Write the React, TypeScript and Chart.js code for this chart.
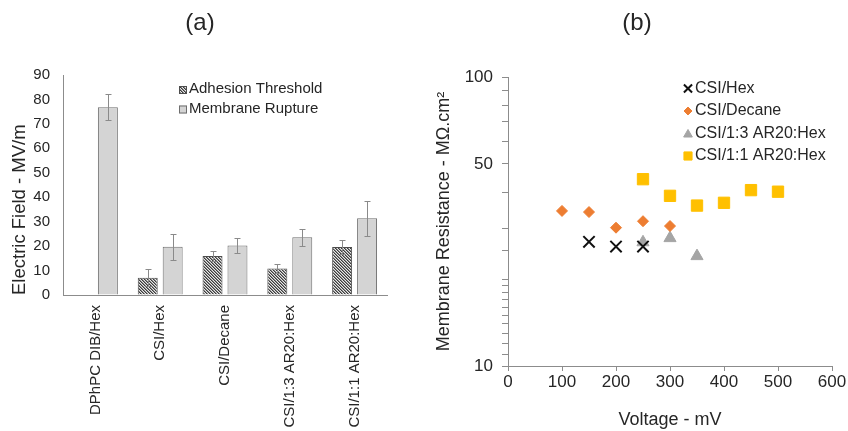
import React, { useEffect, useRef } from 'react';
import { Chart, registerables } from 'chart.js';
import { drawPoint } from 'chart.js/helpers';

Chart.register(...registerables);

const FONT = '"Liberation Sans", Arial, Helvetica, sans-serif';
const TEXT = '#262626';
const AXIS = '#8c8c8c';

// ---------- Panel (a): electric field bars ----------
const systems = ['DPhPC DIB/Hex', 'CSI/Hex', 'CSI/Decane', 'CSI/1:3 AR20:Hex', 'CSI/1:1 AR20:Hex'];
const adhesion = [null, 7.1, 16.0, 10.8, 19.6];
const adhesionErr = [null, 3.5, 2.1, 2.0, 3.0];
const rupture = [76.8, 19.7, 20.3, 23.6, 31.4];
const ruptureErr = [5.4, 5.3, 3.2, 3.5, 7.2];
const fieldSeries = ['Adhesion Threshold', 'Membrane Rupture'];

// ---------- Panel (b): membrane resistance scatter ----------
const hexVoltage = [150, 200, 250];
const hexResistance = [26.9, 25.9, 25.9];
const decaneVoltage = [100, 150, 200, 250, 300];
const decaneResistance = [34.4, 34.1, 30.1, 31.7, 30.5];
const ar13Voltage = [250, 300, 350];
const ar13Resistance = [26.8, 27.7, 24.0];
const ar11Voltage = [250, 300, 350, 400, 450, 500];
const ar11Resistance = [44.3, 38.8, 35.9, 36.7, 40.6, 40.1];
const resistanceSeries = ['CSI/Hex', 'CSI/Decane', 'CSI/1:3 AR20:Hex', 'CSI/1:1 AR20:Hex'];
const resistanceTickLabels = [10, 50, 100];

const zip = (xs: number[], ys: number[]) => xs.map((x, i) => ({ x, y: ys[i] }));

function makeHatch(): CanvasPattern | string {
  const n = 3;
  const shades = [60, 140, 232];
  const c = document.createElement('canvas');
  c.width = n;
  c.height = n;
  const ctx = c.getContext('2d');
  if (!ctx) return '#777';
  const img = ctx.createImageData(n, n);
  for (let y = 0; y < n; y++) {
    for (let x = 0; x < n; x++) {
      const d = (x - y + 2 * n) % n;
      const v = shades[d];
      const k = (y * n + x) * 4;
      img.data[k] = v;
      img.data[k + 1] = v;
      img.data[k + 2] = v;
      img.data[k + 3] = 255;
    }
  }
  ctx.putImageData(img, 0, 0);
  const mainCtx = document.createElement('canvas').getContext('2d');
  return (mainCtx && mainCtx.createPattern(c, 'repeat')) || '#777';
}

const errorBars = {
  id: 'errorBars',
  afterDatasetsDraw(chart: any, _args: any, opts: any) {
    const { ctx } = chart;
    const yScale = chart.scales.y;
    chart.data.datasets.forEach((ds: any, i: number) => {
      const errs = ds.errors;
      if (!errs) return;
      const meta = chart.getDatasetMeta(i);
      meta.data.forEach((el: any, j: number) => {
        const v = ds.data[j];
        const e = errs[j];
        if (v == null || e == null) return;
        const x = Math.round(el.x) + 0.5;
        const top = Math.round(yScale.getPixelForValue(v + e)) + 0.5;
        const bot = Math.round(yScale.getPixelForValue(v - e)) + 0.5;
        ctx.save();
        ctx.strokeStyle = opts.color;
        ctx.lineWidth = 1;
        ctx.beginPath();
        ctx.moveTo(x, top);
        ctx.lineTo(x, bot);
        ctx.moveTo(x - opts.cap, top);
        ctx.lineTo(x + opts.cap, top);
        ctx.moveTo(x - opts.cap, bot);
        ctx.lineTo(x + opts.cap, bot);
        ctx.stroke();
        ctx.restore();
      });
    });
  },
};

const boxLegend = {
  id: 'boxLegend',
  afterDraw(chart: any, _args: any, o: any) {
    const { ctx } = chart;
    chart.data.datasets.forEach((ds: any, i: number) => {
      const y = o.y + i * o.rowHeight;
      ctx.save();
      ctx.fillStyle = ds.backgroundColor;
      ctx.fillRect(o.x, y + o.boxDy, o.box, o.box);
      ctx.strokeStyle = ds.borderColor;
      ctx.lineWidth = 1;
      ctx.strokeRect(o.x + 0.5, y + o.boxDy + 0.5, o.box - 1, o.box - 1);
      ctx.fillStyle = o.color;
      ctx.font = `${o.size}px ${FONT}`;
      ctx.textBaseline = 'middle';
      ctx.textAlign = 'left';
      ctx.fillText(ds.label, o.textX, y);
      ctx.restore();
    });
  },
};

const pointLegend = {
  id: 'pointLegend',
  afterDraw(chart: any, _args: any, o: any) {
    const { ctx } = chart;
    chart.data.datasets.forEach((ds: any, i: number) => {
      const y = o.y + i * o.rowHeight;
      ctx.save();
      ctx.fillStyle = ds.backgroundColor;
      ctx.strokeStyle = ds.borderColor;
      ctx.lineWidth = ds.borderWidth;
      drawPoint(
        ctx,
        { pointStyle: ds.pointStyle, rotation: 0, radius: ds.pointRadius * 0.72, borderWidth: ds.borderWidth } as any,
        o.x,
        y + (ds.legendDy || 0)
      );
      ctx.fillStyle = o.color;
      ctx.font = `${o.size}px ${FONT}`;
      ctx.textBaseline = 'middle';
      ctx.textAlign = 'left';
      ctx.fillText(ds.label, o.textX, y);
      ctx.restore();
    });
  },
};

function PanelA() {
  const ref = useRef<HTMLCanvasElement | null>(null);
  useEffect(() => {
    if (!ref.current) return;
    const hatch = makeHatch();
    const chart = new Chart(ref.current, {
      type: 'bar',
      data: {
        labels: systems,
        datasets: [
          {
            label: fieldSeries[0],
            data: adhesion as any,
            errors: adhesionErr,
            backgroundColor: hatch as any,
            borderColor: '#4d4d4d',
            borderWidth: 1,
            categoryPercentage: 0.77,
            barPercentage: 0.8,
          } as any,
          {
            label: fieldSeries[1],
            data: rupture,
            errors: ruptureErr,
            backgroundColor: '#d4d4d4',
            borderColor: '#6e6e6e',
            borderWidth: 1,
            categoryPercentage: 0.77,
            barPercentage: 0.8,
          } as any,
        ],
      },
      plugins: [errorBars, boxLegend],
      options: {
        animation: false,
        responsive: true,
        maintainAspectRatio: false,
        devicePixelRatio: 1,
        layout: { padding: { left: 0, top: 75, right: 37, bottom: 0 } },
        plugins: {
          legend: { display: false },
          tooltip: { enabled: false },
          title: { display: false },
          errorBars: { color: '#8a8a8a', cap: 3 },
          boxLegend: { x: 179, y: 89, rowHeight: 19.5, box: 8, boxDy: -3, textX: 189, size: 15, color: TEXT },
        } as any,
        scales: {
          x: {
            type: 'category',
            offset: true,
            afterFit: (s: any) => { s.height = 136; },
            grid: { display: true, drawOnChartArea: false, drawTicks: false },
            border: { display: true, color: AXIS, width: 1 },
            ticks: {
              autoSkip: false,
              maxRotation: 90,
              minRotation: 90,
              padding: 10,
              color: TEXT,
              font: { family: FONT, size: 15 },
            },
          },
          y: {
            min: 0,
            max: 90,
            afterFit: (s: any) => { s.width = 63; },
            grid: { display: true, drawOnChartArea: false, drawTicks: false },
            border: { display: true, color: AXIS, width: 1 },
            ticks: { stepSize: 10, padding: 13, color: TEXT, font: { family: FONT, size: 15 } },
            title: {
              display: true,
              text: 'Electric Field - MV/m',
              align: 'start',
              color: TEXT,
              font: { family: FONT, size: 18.5 },
              padding: { top: 9, bottom: 0 },
            },
          },
        },
      } as any,
    });
    return () => chart.destroy();
  }, []);
  return <canvas ref={ref} />;
}

function PanelB() {
  const ref = useRef<HTMLCanvasElement | null>(null);
  useEffect(() => {
    if (!ref.current) return;
    const chart = new Chart(ref.current, {
      type: 'scatter',
      data: {
        datasets: [
          {
            label: resistanceSeries[0],
            data: zip(hexVoltage, hexResistance),
            pointStyle: 'crossRot',
            pointRadius: 8,
            backgroundColor: '#111111',
            borderColor: '#111111',
            borderWidth: 2,
            legendDy: 0,
          } as any,
          {
            label: resistanceSeries[1],
            data: zip(decaneVoltage, decaneResistance),
            pointStyle: 'rectRot',
            pointRadius: 5.5,
            backgroundColor: '#ED7D31',
            borderColor: '#ED7D31',
            borderWidth: 1,
          } as any,
          {
            label: resistanceSeries[2],
            data: zip(ar13Voltage, ar13Resistance),
            pointStyle: 'triangle',
            pointRadius: 7,
            backgroundColor: '#A5A5A5',
            borderColor: '#A5A5A5',
            borderWidth: 1,
            legendDy: 1,
          } as any,
          {
            label: resistanceSeries[3],
            data: zip(ar11Voltage, ar11Resistance),
            pointStyle: 'rect',
            pointRadius: 8,
            backgroundColor: '#FFC000',
            borderColor: '#FFC000',
            borderWidth: 1,
          } as any,
        ],
      },
      plugins: [pointLegend],
      options: {
        animation: false,
        responsive: true,
        maintainAspectRatio: false,
        devicePixelRatio: 1,
        layout: { padding: { left: 0, top: 77, right: 16, bottom: 0 } },
        plugins: {
          legend: { display: false },
          tooltip: { enabled: false },
          title: { display: false },
          pointLegend: { x: 264, y: 88.5, rowHeight: 22.5, textX: 271, size: 16, color: TEXT },
        } as any,
        scales: {
          x: {
            type: 'linear',
            min: 0,
            max: 600,
            afterFit: (s: any) => { s.height = 65; },
            grid: { display: true, drawOnChartArea: false, drawTicks: true, tickLength: 5, color: AXIS },
            border: { display: true, color: AXIS, width: 1 },
            ticks: { stepSize: 100, padding: 1, color: TEXT, font: { family: FONT, size: 17 } },
            title: {
              display: true,
              text: 'Voltage - mV',
              color: TEXT,
              font: { family: FONT, size: 18 },
              padding: { top: 0, bottom: 0 },
            },
          },
          y: {
            type: 'logarithmic',
            min: 10,
            max: 100,
            afterFit: (s: any) => { s.width = 84; },
            grid: { display: true, drawOnChartArea: false, drawTicks: true, tickLength: 6, color: AXIS },
            border: { display: true, color: AXIS, width: 1 },
            ticks: {
              autoSkip: false,
              padding: 9,
              color: TEXT,
              font: { family: FONT, size: 17 },
              callback: (v: any) => (resistanceTickLabels.includes(Number(v)) ? String(v) : ''),
            },
            title: {
              display: true,
              text: 'Membrane Resistance - MΩ.cm²',
              color: TEXT,
              font: { family: FONT, size: 18 },
              padding: { top: 9, bottom: 0 },
            },
          },
        },
      } as any,
    });
    return () => chart.destroy();
  }, []);
  return <canvas ref={ref} />;
}

const panelTitle: React.CSSProperties = {
  position: 'absolute',
  top: 8,
  width: 60,
  textAlign: 'center',
  fontSize: 24,
  fontFamily: FONT,
  color: TEXT,
  lineHeight: 'normal',
};

export default function App() {
  return (
    <div style={{ position: 'fixed', left: 0, top: 0, width: 848, height: 431, background: '#fff', overflow: 'hidden' }}>
      <div style={{ position: 'absolute', left: 0, top: 0, width: 424, height: 431 }}>
        <PanelA />
      </div>
      <div style={{ position: 'absolute', left: 424, top: 0, width: 424, height: 431 }}>
        <PanelB />
      </div>
      <div style={{ ...panelTitle, left: 200 - 30 }}>(a)</div>
      <div style={{ ...panelTitle, left: 637 - 30 }}>(b)</div>
    </div>
  );
}
